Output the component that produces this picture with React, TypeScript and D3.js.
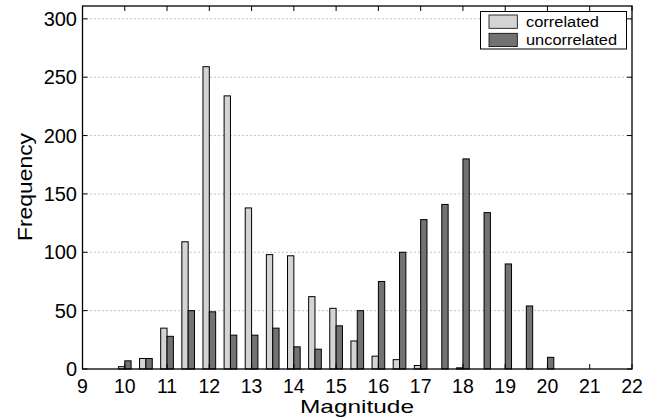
import React from "react";
import * as d3 from "d3";

const centers = [10, 10.5, 11, 11.5, 12, 12.5, 13, 13.5, 14, 14.5, 15, 15.5, 16, 16.5, 17, 17.5, 18, 18.5, 19, 19.5, 20, 20.5, 21];
const correlated = [2, 9, 35, 109, 259, 234, 138, 98, 97, 62, 52, 24, 11, 8, 3, 0, 1, 0, 0, 0, 0, 0, 0];
const uncorrelated = [7, 9, 28, 50, 49, 29, 29, 35, 19, 17, 37, 50, 75, 100, 128, 141, 180, 134, 90, 54, 10, 0, 0];
const xTicks = [9, 10, 11, 12, 13, 14, 15, 16, 17, 18, 19, 20, 21, 22];
const yTicks = [0, 50, 100, 150, 200, 250, 300];
const seriesNames = ["correlated", "uncorrelated"];
const seriesColors = ["#d4d4d4", "#727272"];
const legendWidths = [73, 91];

export default function App() {
  const W = 646, H = 419;
  const L = 82.5, R = 632, T = 6, B = 369;
  const x = d3.scaleLinear().domain([9, 22]).range([L, R]);
  const y = d3.scaleLinear().domain([0, 311]).range([B, T]);
  const bw = 0.15;
  const font = "'Liberation Sans', Arial, sans-serif";
  const series = [correlated, uncorrelated];
  return (
    <svg width={W} height={H} style={{ position: "absolute", left: 0, top: 0 }} fontFamily={font}>
      <rect x={0} y={0} width={W} height={H} fill="white" />
      {yTicks.filter(t => t > 0).map(t => (
        <line key={t} x1={L} x2={R} y1={y(t)} y2={y(t)} stroke="#888" strokeWidth={1} strokeDasharray="1,3" />
      ))}
      {series.map((vals, s) =>
        vals.map((v, i) => v > 0 ? (
          <rect key={s + "-" + i}
            x={x(centers[i] + (s === 0 ? -bw : 0))}
            y={y(v)}
            width={x(centers[i] + bw) - x(centers[i])}
            height={y(0) - y(v)}
            fill={seriesColors[s]} stroke="#000" strokeWidth={1} />
        ) : null)
      )}
      <rect x={L} y={T} width={R - L} height={B - T} fill="none" stroke="#000" strokeWidth={1.3} />
      {xTicks.map(t => (
        <g key={t}>
          <line x1={x(t)} x2={x(t)} y1={B} y2={B - 5} stroke="#000" />
          <line x1={x(t)} x2={x(t)} y1={T} y2={T + 5} stroke="#000" />
          <text x={x(t)} y={392.5} fontSize={19.5} textAnchor="middle">{t}</text>
        </g>
      ))}
      {yTicks.map(t => (
        <g key={t}>
          <line x1={L} x2={L + 5} y1={y(t)} y2={y(t)} stroke="#000" />
          <line x1={R} x2={R - 5} y1={y(t)} y2={y(t)} stroke="#000" />
          <text x={77} y={y(t) + 7.2} fontSize={20} textAnchor="end">{t}</text>
        </g>
      ))}
      <text x={300} y={412.5} fontSize={19} textLength={114} lengthAdjust="spacingAndGlyphs">Magnitude</text>
      <text transform="translate(31.5,241) rotate(-90)" fontSize={20} textLength={108} lengthAdjust="spacingAndGlyphs">Frequency</text>
      <g>
        <rect x={480.5} y={11.5} width={146} height={37.5} fill="white" stroke="#000" strokeWidth={1} />
        {seriesNames.map((n, i) => (
          <g key={n}>
            <rect x={489} y={15 + i * 18.3} width={28.3} height={13.3} fill={seriesColors[i]} stroke="#000" strokeWidth={0.8} />
            <text x={526} y={27.3 + i * 17.7} fontSize={14} textLength={legendWidths[i]} lengthAdjust="spacingAndGlyphs">{n}</text>
          </g>
        ))}
      </g>
    </svg>
  );
}
